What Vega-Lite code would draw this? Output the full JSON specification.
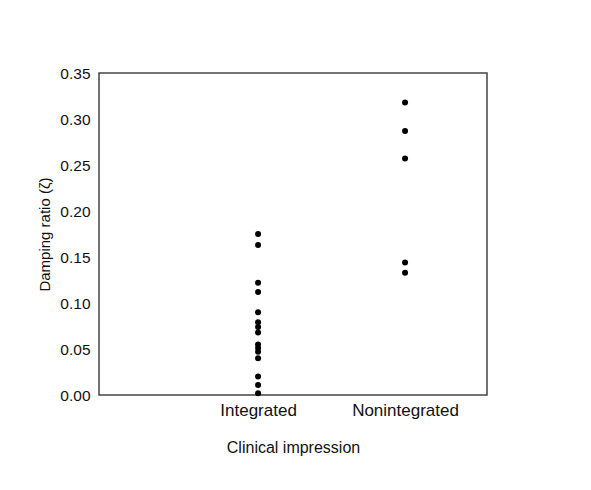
{
  "$schema": "https://vega.github.io/schema/vega-lite/v6.json",
  "width": 388,
  "height": 322,
  "autosize": {"type": "none"},
  "padding": {"left": 99, "top": 73, "right": 104, "bottom": 95},
  "background": "white",
  "config": {
    "view": {"stroke": "#444444", "strokeWidth": 1.5},
    "font": "Liberation Sans"
  },
  "data": {
    "values": [
      {"impression": "Integrated", "zeta": 0.175},
      {"impression": "Integrated", "zeta": 0.163},
      {"impression": "Integrated", "zeta": 0.122},
      {"impression": "Integrated", "zeta": 0.112},
      {"impression": "Integrated", "zeta": 0.09},
      {"impression": "Integrated", "zeta": 0.079},
      {"impression": "Integrated", "zeta": 0.074},
      {"impression": "Integrated", "zeta": 0.068},
      {"impression": "Integrated", "zeta": 0.055},
      {"impression": "Integrated", "zeta": 0.051},
      {"impression": "Integrated", "zeta": 0.047},
      {"impression": "Integrated", "zeta": 0.04},
      {"impression": "Integrated", "zeta": 0.02},
      {"impression": "Integrated", "zeta": 0.011},
      {"impression": "Integrated", "zeta": 0.002},
      {"impression": "Nonintegrated", "zeta": 0.318},
      {"impression": "Nonintegrated", "zeta": 0.287},
      {"impression": "Nonintegrated", "zeta": 0.257},
      {"impression": "Nonintegrated", "zeta": 0.144},
      {"impression": "Nonintegrated", "zeta": 0.133}
    ]
  },
  "mark": {"type": "circle", "color": "black", "opacity": 1, "size": 36},
  "encoding": {
    "x": {
      "field": "impression",
      "type": "nominal",
      "scale": {"type": "point", "domain": ["Integrated", "Nonintegrated"], "padding": 0.82, "align": 0.66},
      "axis": {
        "title": "Clinical impression",
        "labelAngle": 0,
        "domain": false,
        "ticks": false,
        "labelPadding": 7,
        "labelFontSize": 17,
        "labelColor": "#111111",
        "titleFontSize": 16,
        "titleFontWeight": "normal",
        "titleColor": "#111111",
        "titlePadding": 21
      }
    },
    "y": {
      "field": "zeta",
      "type": "quantitative",
      "scale": {"domain": [0, 0.35], "nice": false},
      "axis": {
        "title": "Damping ratio (ζ)",
        "values": [0, 0.05, 0.1, 0.15, 0.2, 0.25, 0.3, 0.35],
        "format": ".2f",
        "grid": false,
        "domain": false,
        "ticks": false,
        "labelPadding": 9,
        "labelFontSize": 15.5,
        "labelColor": "#111111",
        "titleFontSize": 15,
        "titleFontWeight": "normal",
        "titleColor": "#111111",
        "titlePadding": 7
      }
    }
  }
}
